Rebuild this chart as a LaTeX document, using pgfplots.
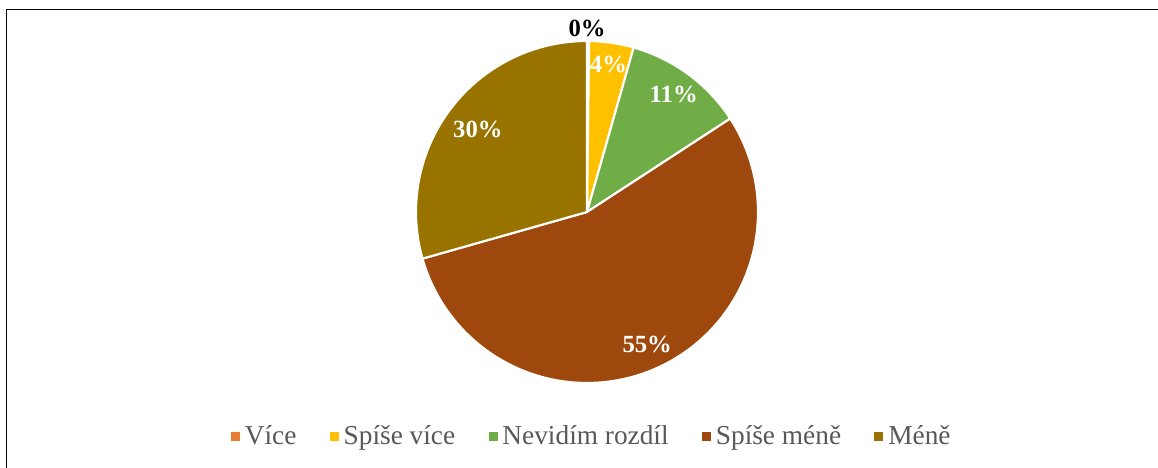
\documentclass[border=0pt]{standalone}
\usepackage{fontspec}
\setmainfont{Liberation Serif}
\usepackage{pgfplots}
\pgfplotsset{compat=1.18}
\definecolor{cVice}{HTML}{ED7D31}
\definecolor{cSpiseVice}{HTML}{FFC000}
\definecolor{cNevidim}{HTML}{70AD47}
\definecolor{cSpiseMene}{HTML}{9E480E}
\definecolor{cMene}{HTML}{997300}
\definecolor{legtext}{HTML}{595959}
% shares in percent
\def\vA{0.2}  % Více
\def\vB{4.2}  % Spíše více
\def\vC{11.4} % Nevidím rozdíl
\def\vD{54.8} % Spíše méně
\def\vE{29.4} % Méně
\pgfmathsetmacro\aA{90}
\pgfmathsetmacro\aB{\aA-3.6*\vA}
\pgfmathsetmacro\aC{\aB-3.6*\vB}
\pgfmathsetmacro\aD{\aC-3.6*\vC}
\pgfmathsetmacro\aE{\aD-3.6*\vD}
\pgfmathsetmacro\aF{\aE-3.6*\vE}
\pgfmathsetmacro\mA{(\aA+\aB)/2}
\pgfmathsetmacro\mB{(\aB+\aC)/2}
\pgfmathsetmacro\mC{(\aC+\aD)/2}
\pgfmathsetmacro\mD{(\aD+\aE)/2}
\pgfmathsetmacro\mE{(\aE+\aF)/2}
\tikzset{lab/.style={font=\bfseries\fontsize{18.5}{21}\selectfont, text=white}}
\begin{document}
\begin{tikzpicture}
\useasboundingbox (0,0) rectangle (868.5pt,351pt);
\fill[white] (0,0) rectangle (868.5pt,351pt);
\draw[line width=1.3pt] (4.9pt,-3pt) -- (4.9pt,343.9pt) -- (872pt,343.9pt);
\begin{axis}[
  anchor=origin, at={(440.25pt,192pt)},
  x=128.25pt, y=128.25pt,
  xmin=-1.1, xmax=1.1, ymin=-1.1, ymax=1.1,
  hide axis, clip=false,
  legend columns=5,
  legend style={draw=none, fill=none, font=\fontsize{20.5}{24}\selectfont, text=legtext,
    at={(axis cs:0.03,-1.31)}, anchor=center,
    /tikz/every even column/.append style={column sep=23pt},
    /tikz/every odd column/.append style={column sep=2pt}},
  legend image code/.code={\fill[#1] (0pt,-3pt) rectangle (6pt,3pt);},
  slice/.style={draw=white, line width=1.6pt, line join=round, forget plot, samples=90, variable=\t},
]
\addplot[slice, fill=cVice, domain=\aB:\aA] ({cos(t)},{sin(t)}) -- (0,0) -- cycle;
\addplot[slice, fill=cSpiseVice, domain=\aC:\aB] ({cos(t)},{sin(t)}) -- (0,0) -- cycle;
\addplot[slice, fill=cNevidim, domain=\aD:\aC] ({cos(t)},{sin(t)}) -- (0,0) -- cycle;
\addplot[slice, fill=cSpiseMene, domain=\aE:\aD] ({cos(t)},{sin(t)}) -- (0,0) -- cycle;
\addplot[slice, fill=cMene, domain=\aF:\aE] ({cos(t)},{sin(t)}) -- (0,0) -- cycle;

\node[lab, text=black] at (axis cs:0,1.076) {0\%};
\node[lab] at (axis cs:{0.87*cos(\mB)},{0.87*sin(\mB)}) {4\%};
\node[lab] at (axis cs:{0.855*cos(\mC)},{0.855*sin(\mC)}) {11\%};
\node[lab] at (axis cs:{0.85*cos(\mD)},{0.85*sin(\mD)}) {55\%};
\node[lab] at (axis cs:{0.8*cos(\mE)},{0.8*sin(\mE)}) {30\%};

\addlegendimage{cVice}\addlegendentry{Více}
\addlegendimage{cSpiseVice}\addlegendentry{Spíše více}
\addlegendimage{cNevidim}\addlegendentry{Nevidím rozdíl}
\addlegendimage{cSpiseMene}\addlegendentry{Spíše méně}
\addlegendimage{cMene}\addlegendentry{Méně}
\end{axis}
\end{tikzpicture}
\end{document}
